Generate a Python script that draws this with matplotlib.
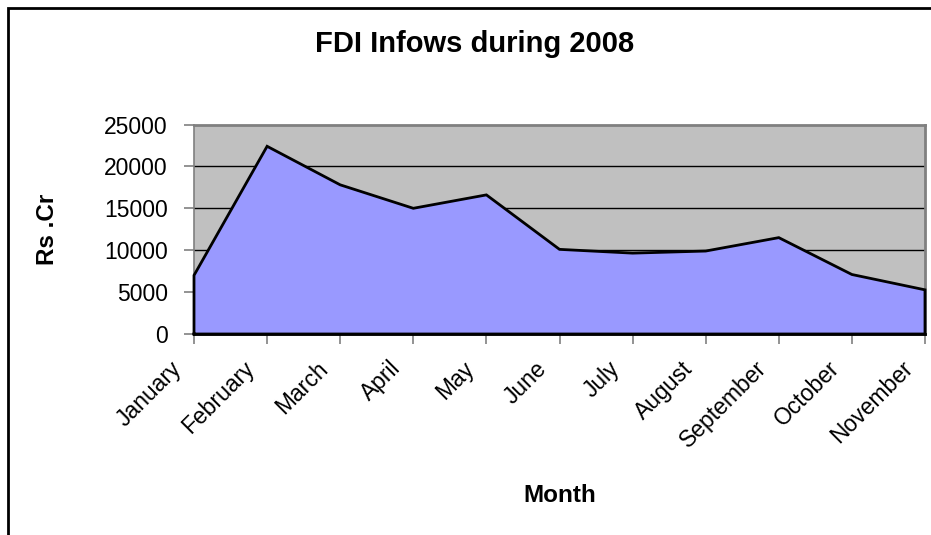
import matplotlib
matplotlib.use("Agg")
import matplotlib.pyplot as plt
import matplotlib.transforms as mtransforms
from matplotlib.patches import Rectangle

months = ["January", "February", "March", "April", "May", "June", "July",
          "August", "September", "October", "November"]
fdi = [7000, 22400, 17800, 15000, 16600, 10100, 9650, 9900, 11500, 7100, 5270]
yticks = [0, 5000, 10000, 15000, 20000, 25000]

plt.rcParams['font.family'] = ['Liberation Sans', 'DejaVu Sans']

W, H = 931, 535
fig = plt.figure(figsize=(W / 100, H / 100), dpi=100)
fig.patch.set_facecolor('white')

ax = fig.add_axes([194 / W, 1 - 334 / H, (925 - 194) / W, (334 - 124.5) / H])
ax.set_facecolor('#C0C0C0')
x = list(range(len(months)))
ax.fill_between(x, fdi, 0, facecolor='#9999FF', edgecolor='none', zorder=2)
# outline of the area polygon
px = [x[0]] + x + [x[-1], x[0]]
py = [0] + fdi + [0, 0]
ax.plot(px, py, color='black', lw=2, zorder=3, clip_on=False, solid_joinstyle='miter')

ax.set_xlim(x[0], x[-1])
ax.set_ylim(0, 25000)
ax.set_yticks(yticks)
ax.set_yticklabels([str(v) for v in yticks])
for v in yticks[1:-1]:
    ax.axhline(v, color='black', lw=1, zorder=1)

ax.set_xticks(x)
ax.set_xticklabels([])
off = mtransforms.ScaledTranslation(-16 / 100, -31 / 100, fig.dpi_scale_trans)
tr = mtransforms.blended_transform_factory(ax.transData, ax.transAxes) + off
for xi, m in zip(x, months):
    ax.text(xi, 0, m, transform=tr, rotation=45, ha='right', va='center',
            rotation_mode='anchor', fontsize=16.5, color='black', clip_on=False)

for s in ['top', 'right', 'left']:
    ax.spines[s].set_color('#808080')
    ax.spines[s].set_linewidth(2)
ax.spines['left'].set_linewidth(1.2)
ax.spines['bottom'].set_color('black')
ax.spines['bottom'].set_linewidth(2)

ax.tick_params(axis='both', direction='out', length=7, width=1.2, color='#808080',
               labelsize=16.5, labelcolor='black')
ax.tick_params(axis='y', pad=12)

fig.text(475 / W, 1 - 52 / H, "FDI Infows during 2008", ha='center', va='baseline',
         fontsize=21, fontweight='bold')
fig.text(48 / W, 1 - 229 / H, "Rs .Cr", ha='center', va='center', rotation=90,
         fontsize=17.5, fontweight='bold')
fig.text(560 / W, 1 - 502 / H, "Month", ha='center', va='baseline',
         fontsize=17.5, fontweight='bold')

fig.patches.append(Rectangle((8 / W, -0.2), 1.5, 1 - 8 / H + 0.2, transform=fig.transFigure,
                             fill=False, edgecolor='black', lw=2, zorder=10))

fig.savefig("out.png", dpi=100)
